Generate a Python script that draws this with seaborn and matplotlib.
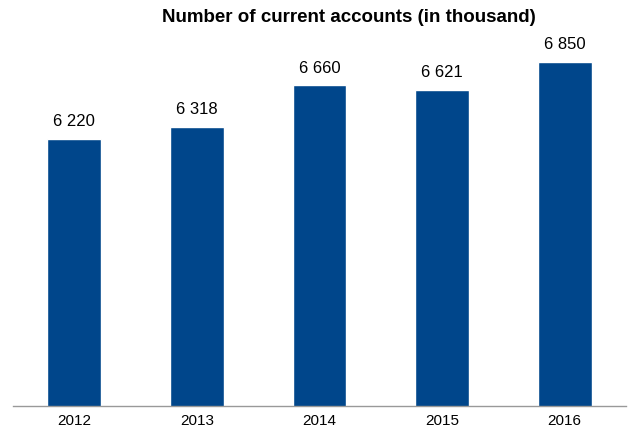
import matplotlib
matplotlib.use("Agg")
import matplotlib.pyplot as plt
import seaborn as sns
import pandas as pd

years = ["2012", "2013", "2014", "2015", "2016"]
accounts = [6220, 6318, 6660, 6621, 6850]
labels = ["6 220", "6 318", "6 660", "6 621", "6 850"]

sns.set_style("white")
plt.rcParams['font.family'] = ['Liberation Sans', 'DejaVu Sans']
plt.rcParams['text.color'] = 'black'
plt.rcParams['xtick.color'] = 'black'

df = pd.DataFrame({"year": years, "accounts": accounts})

fig = plt.figure(figsize=(6.31, 4.30), dpi=100)
ax = fig.add_axes([13 / 631, 24 / 430, 613 / 631, 366 / 430])
sns.barplot(data=df, x="year", y="accounts", color="#00468B", width=0.44,
            saturation=1, ax=ax)
ax.set_xlim(-0.5, 4.5)
ax.set_ylim(4040, 7030)
for c in ax.containers:
    ax.bar_label(c, labels=labels, padding=7, fontsize=12, color="black")

for s in ["top", "right", "left"]:
    ax.spines[s].set_visible(False)
ax.spines["bottom"].set_color("#999999")
ax.spines["bottom"].set_linewidth(1)
ax.set_yticks([])
ax.tick_params(axis="x", length=0, labelsize=11, pad=6, labelcolor="black")
ax.set_xlabel("")
ax.set_ylabel("")
fig.text(349 / 631, 1 - 18 / 430, "Number of current accounts (in thousand)",
         ha="center", va="center", fontsize=13.5, fontweight="bold")

fig.savefig("out.png", dpi=100)
